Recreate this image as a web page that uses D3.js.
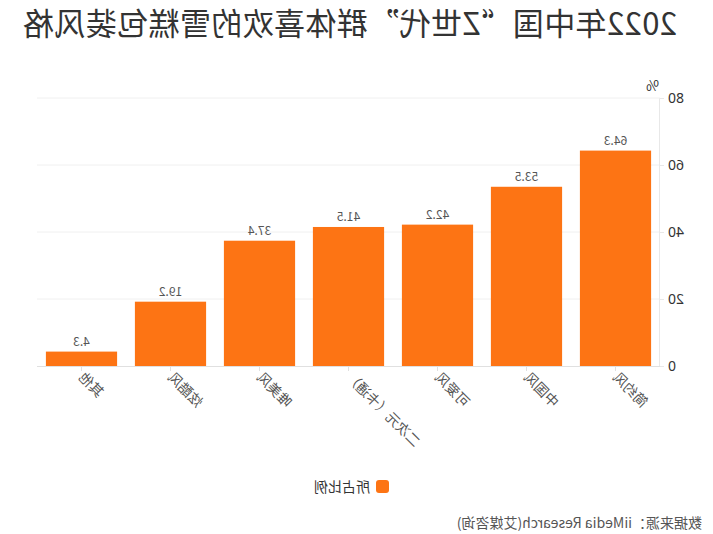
<!DOCTYPE html>
<html>
<head>
<meta charset="utf-8">
<script src="https://cdn.jsdelivr.net/npm/d3@7/dist/d3.min.js"></script>
<style>
  body { margin: 0; background: #fff; }
  svg { display: block; font-family: "Noto Sans CJK SC", "Noto Sans", sans-serif; }
</style>
</head>
<body>
<div id="chart"></div>
<script>
// data
const categories = ["简约风", "中国风", "可爱风", "二次元（卡通）", "唯美风", "炫酷风", "其他"];
const values = [64.3, 53.5, 42.2, 41.5, 37.4, 19.2, 4.3];
const yTicks = [0, 20, 40, 60, 80];
const seriesName = "所占比例";
const titleText = "2022年中国“Z世代”群体喜欢的雪糕包装风格";
const sourceText = "数据来源：iiMedia Research(艾媒咨询)";

const width = 713, height = 534;
const margin = { top: 98, right: 37, bottom: 168, left: 53 };
const barColor = "#fd7414";

const svg = d3.select("#chart")
  .append("svg")
  .attr("width", width)
  .attr("height", height);

// the reference is mirrored left-to-right, so flip the whole drawing
const root = svg.append("g")
  .attr("transform", `translate(${width},0) scale(-1,1)`);

// title
root.append("text")
  .attr("x", 36)
  .attr("y", 35)
  .attr("font-size", 31)
  .attr("textLength", 654)
  .attr("lengthAdjust", "spacing")
  .attr("fill", "#333")
  .text(titleText);

const x = d3.scaleBand()
  .domain(categories)
  .range([margin.left, width - margin.right])
  .paddingInner(0.2)
  .paddingOuter(0.1);

const y = d3.scaleLinear()
  .domain([0, 80])
  .range([height - margin.bottom, margin.top]);

// gridlines
root.append("g")
  .selectAll("line")
  .data(yTicks.filter(d => d > 0))
  .enter()
  .append("line")
  .attr("x1", margin.left)
  .attr("x2", width - margin.right)
  .attr("y1", d => y(d))
  .attr("y2", d => y(d))
  .attr("stroke", "#f0f0f0");

// y axis
const yAxis = root.append("g")
  .attr("transform", `translate(${margin.left},0)`)
  .call(d3.axisLeft(y).tickValues(yTicks).tickSize(4).tickPadding(4));
yAxis.select(".domain").attr("stroke", "#e8e8e8");
yAxis.selectAll(".tick line").attr("stroke", "#e8e8e8");
yAxis.selectAll(".tick text")
  .attr("font-size", 14)
  .attr("fill", "#333")
  .attr("font-family", "\"Noto Sans\", sans-serif");

root.append("text")
  .attr("x", margin.left + 1)
  .attr("y", 91)
  .attr("font-size", 14)
  .attr("fill", "#333")
  .text("%");

// bars
root.append("g")
  .selectAll("rect")
  .data(values)
  .enter()
  .append("rect")
  .attr("x", (d, i) => x(categories[i]))
  .attr("y", d => y(d))
  .attr("width", x.bandwidth())
  .attr("height", d => y(0) - y(d))
  .attr("fill", barColor);

// value labels
root.append("g")
  .selectAll("text")
  .data(values)
  .enter()
  .append("text")
  .attr("x", (d, i) => x(categories[i]) + x.bandwidth() / 2)
  .attr("y", d => y(d) - 6)
  .attr("text-anchor", "middle")
  .attr("font-size", 12)
  .attr("fill", "#555")
  .text(d => d);

// x axis
const xAxis = root.append("g")
  .attr("transform", `translate(0,${y(0)})`)
  .call(d3.axisBottom(x).tickSize(5).tickFormat(""));
xAxis.select(".domain").attr("stroke", "#e0e0e0").attr("d", `M${margin.left},0.5H${width - margin.right}`);
xAxis.selectAll(".tick line").attr("stroke", "#e0e0e0");

root.append("g")
  .selectAll("text")
  .data(categories)
  .enter()
  .append("text")
  .attr("transform", d => `translate(${x(d) + x.bandwidth() / 2},${y(0) + 9}) rotate(-45)`)
  .attr("text-anchor", "end")
  .attr("dy", "0.35em")
  .attr("font-size", 14)
  .attr("fill", "#555")
  .text(d => d);

// legend
const legend = root.append("g").attr("transform", "translate(324,480)");
legend.append("rect")
  .attr("width", 13)
  .attr("height", 13)
  .attr("rx", 3)
  .attr("fill", barColor);
legend.append("text")
  .attr("x", 19)
  .attr("y", 7)
  .attr("dy", "0.35em")
  .attr("font-size", 14)
  .attr("fill", "#333")
  .text(seriesName);

// source
root.append("text")
  .attr("x", 11)
  .attr("y", 523)
  .attr("dy", "0.35em")
  .attr("font-size", 14)
  .attr("fill", "#555")
  .text(sourceText);
</script>
</body>
</html>
